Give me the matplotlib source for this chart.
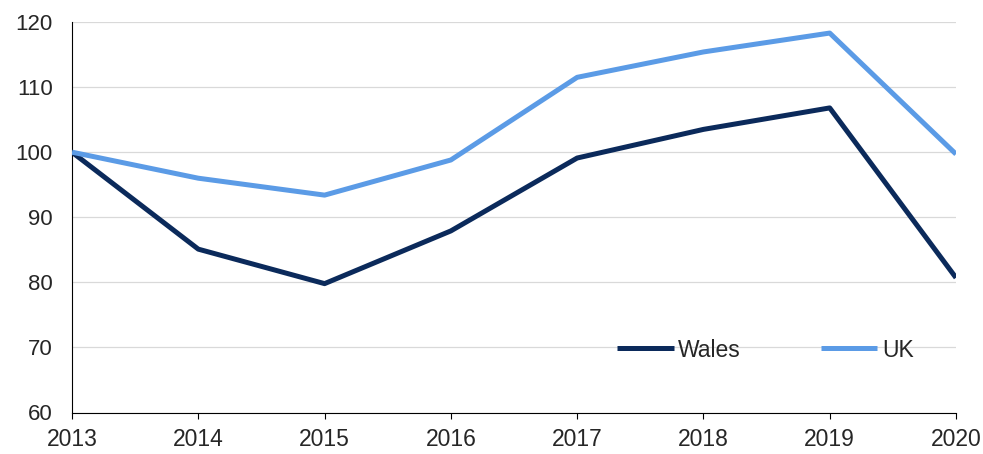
import matplotlib
matplotlib.use('Agg')
import matplotlib.pyplot as plt

matplotlib.rcParams['font.family'] = ['Liberation Sans', 'DejaVu Sans']

years = [2013, 2014, 2015, 2016, 2017, 2018, 2019, 2020]
wales = [100, 85.1, 79.8, 87.9, 99.1, 103.5, 106.8, 80.7]
uk = [100, 96.0, 93.4, 98.8, 111.5, 115.4, 118.3, 99.7]

fig = plt.figure(figsize=(9.83, 4.54), dpi=100)
ax = fig.add_axes([72/983, 1 - 412.5/454, (956-72)/983, (412.5-22)/454])

ax.plot(years, wales, color='#0b2a5b', lw=3.6, label='Wales', solid_capstyle='butt', zorder=3)
ax.plot(years, uk, color='#5b9be6', lw=3.6, label='UK', solid_capstyle='butt', zorder=3)

ax.set_xlim(2013, 2020)
ax.set_ylim(60, 120)
ax.set_xticks(years)
ax.set_yticks(range(60, 121, 10))
ax.grid(axis='y', color='#d9d9d9', lw=0.9)
ax.set_axisbelow(True)
for s in ['top', 'right']:
    ax.spines[s].set_visible(False)
ax.spines['left'].set_color('black')
ax.spines['bottom'].set_color('black')
ax.tick_params(axis='y', length=0, pad=14, labelsize=16)
ax.tick_params(axis='x', length=4.3, direction='out', pad=7, labelsize=16.5)
for t in ax.get_xticklabels() + ax.get_yticklabels():
    t.set_color('#262626')

leg = ax.legend(loc='center left', bbox_to_anchor=(0.617, 0.16), ncol=2, frameon=False,
                fontsize=16.5, handlelength=2.45, handletextpad=0.2, columnspacing=3.5,
                borderpad=0, borderaxespad=0)
for t in leg.get_texts():
    t.set_color('#262626')

fig.savefig('out.png', dpi=100)
